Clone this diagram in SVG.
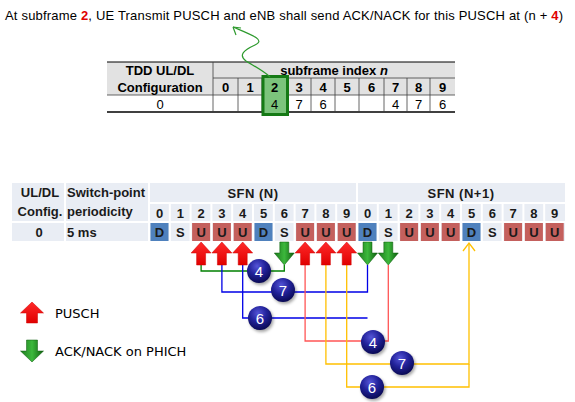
<svg xmlns="http://www.w3.org/2000/svg" width="575" height="402" viewBox="0 0 575 402">
<style>
.t{font-family:"Liberation Sans",Arial,sans-serif;fill:#000}
.b{font-weight:bold}
.tb{font-family:"Liberation Sans",Arial,sans-serif;font-weight:bold;font-size:13px;fill:#1a1a1a}
.grid{stroke:#404040;stroke-width:0.8;fill:none}
.sep{stroke:#ffffff;stroke-width:2}
.D{fill:#4f81bd}
.U{fill:#c0504d;fill-opacity:0.9}
.num{font-family:"Liberation Sans",Arial,sans-serif;font-size:15px;fill:#ffffff;text-anchor:middle}
.lg{font-family:"DejaVu Sans",Verdana,sans-serif;font-size:13px;fill:#000}
.c{fill:none;stroke-width:1.3}
</style>
<defs>
<linearGradient id="gr" x1="0" y1="0" x2="0" y2="1">
<stop offset="0" stop-color="#ff2a2a"/><stop offset="1" stop-color="#e00000"/>
</linearGradient>
<linearGradient id="gg" x1="0" y1="0" x2="1" y2="0">
<stop offset="0" stop-color="#1e7a1e"/><stop offset="0.5" stop-color="#3cb83c"/><stop offset="1" stop-color="#0e5e0e"/>
</linearGradient>
<radialGradient id="ball" cx="0.42" cy="0.3" r="0.7">
<stop offset="0" stop-color="#5555d8"/><stop offset="0.5" stop-color="#22229a"/><stop offset="1" stop-color="#0a0a55"/>
</radialGradient>
<filter id="sh" x="-50%" y="-50%" width="200%" height="200%">
<feGaussianBlur stdDeviation="1.5"/>
</filter>
<path id="up" d="M0,0 L10,11 L4.5,11 L4.5,23 L-4.5,23 L-4.5,11 L-10,11 Z" fill="url(#gr)" stroke="#d00000" stroke-width="0.5"/>
<path id="dn" d="M-4.5,0 L4.5,0 L4.5,11 L10,11 L0,23 L-10,11 L-4.5,11 Z" fill="url(#gg)" stroke="#0a5a0a" stroke-width="0.5"/>
<g id="ballg">
<circle cx="1.5" cy="2" r="12" fill="#000" fill-opacity="0.35" filter="url(#sh)"/>
<circle cx="0" cy="0" r="12" fill="url(#ball)"/>
</g>
</defs>

<!-- title -->
<g id="title">
<text class="t" x="5" y="20" font-size="13" textLength="558" lengthAdjust="spacing">At subframe <tspan class="b" fill="#e00000">2</tspan>, UE Transmit PUSCH and eNB shall send ACK/NACK for this PUSCH at (n + <tspan class="b" fill="#e00000">4</tspan>)</text>
</g>

<!-- top table -->
<g id="table1">
<rect x="107" y="62" width="348" height="33" fill="#e2e2e2"/>
<rect x="107" y="95" width="348" height="17" fill="#ffffff"/>
<line x1="107" y1="62" x2="455" y2="62" stroke="#000" stroke-width="1"/>
<line x1="107" y1="112" x2="455" y2="112" stroke="#000" stroke-width="1.6"/>
<line class="grid" x1="213" y1="78" x2="455" y2="78"/>
<line class="grid" x1="107" y1="95" x2="455" y2="95"/>
<line class="grid" x1="213" y1="62" x2="213" y2="112"/>
<g class="grid">
<line x1="238" y1="78" x2="238" y2="112"/><line x1="262" y1="78" x2="262" y2="112"/>
<line x1="287" y1="78" x2="287" y2="112"/><line x1="311" y1="78" x2="311" y2="112"/>
<line x1="335" y1="78" x2="335" y2="112"/><line x1="359" y1="78" x2="359" y2="112"/>
<line x1="384" y1="78" x2="384" y2="112"/><line x1="407" y1="78" x2="407" y2="112"/>
<line x1="430" y1="78" x2="430" y2="112"/>
</g>
<rect x="263" y="76.5" width="24.5" height="38" fill="#7cc47c" stroke="#157a15" stroke-width="3"/>
<text class="t b" x="160" y="75" font-size="13" text-anchor="middle">TDD UL/DL</text>
<text class="t b" x="160" y="92" font-size="13" text-anchor="middle">Configuration</text>
<text class="t b" x="334" y="75" font-size="13" text-anchor="middle">subframe index <tspan font-style="italic">n</tspan></text>
<g class="t b" font-size="13" text-anchor="middle">
<text x="225.5" y="92">0</text><text x="250" y="92">1</text><text x="274.5" y="92">2</text>
<text x="299" y="92">3</text><text x="323" y="92">4</text><text x="347" y="92">5</text>
<text x="371.5" y="92">6</text><text x="395.5" y="92">7</text><text x="418.5" y="92">8</text>
<text x="442.5" y="92">9</text>
</g>
<g class="t" font-size="13" text-anchor="middle" fill="#222">
<text x="160" y="109">0</text>
<text x="274.5" y="109">4</text><text x="299" y="109">7</text><text x="323" y="109">6</text>
<text x="395.5" y="109">4</text><text x="418.5" y="109">7</text><text x="442.5" y="109">6</text>
</g>
</g>

<!-- green curved pointer -->
<g id="pointer" fill="none" stroke="#2e9a2e" stroke-width="1.2">
<path d="M233,27 C252,35 266,40 255,45 C244,50 238,55 246,61 C254,66 264,71 270,77"/>
<path d="M233,27 L236,35 M233,27 L241,28"/>
</g>

<!-- bottom table -->
<g id="table2">
<rect x="12" y="183" width="553" height="58" fill="#e9edf4"/>
<line class="sep" x1="65" y1="183" x2="65" y2="241"/>
<line class="sep" x1="149" y1="183" x2="149" y2="241"/>
<line class="sep" x1="357" y1="183" x2="357" y2="241"/>
<line class="sep" x1="149" y1="203" x2="565" y2="203"/>
<line class="sep" x1="12" y1="222" x2="565" y2="222"/>
<g class="sep">
<line x1="169.8" y1="203" x2="169.8" y2="241"/><line x1="190.6" y1="203" x2="190.6" y2="241"/>
<line x1="211.4" y1="203" x2="211.4" y2="241"/><line x1="232.2" y1="203" x2="232.2" y2="241"/>
<line x1="253" y1="203" x2="253" y2="241"/><line x1="273.8" y1="203" x2="273.8" y2="241"/>
<line x1="294.6" y1="203" x2="294.6" y2="241"/><line x1="315.4" y1="203" x2="315.4" y2="241"/>
<line x1="336.2" y1="203" x2="336.2" y2="241"/>
<line x1="377.8" y1="203" x2="377.8" y2="241"/><line x1="398.6" y1="203" x2="398.6" y2="241"/>
<line x1="419.4" y1="203" x2="419.4" y2="241"/><line x1="440.2" y1="203" x2="440.2" y2="241"/>
<line x1="461" y1="203" x2="461" y2="241"/><line x1="481.8" y1="203" x2="481.8" y2="241"/>
<line x1="502.6" y1="203" x2="502.6" y2="241"/><line x1="523.4" y1="203" x2="523.4" y2="241"/>
<line x1="544.2" y1="203" x2="544.2" y2="241"/>
</g>
<rect class="D" x="150.5" y="223" width="18" height="18"/>
<rect class="U" x="192.1" y="223" width="18" height="18"/>
<rect class="U" x="212.9" y="223" width="18" height="18"/>
<rect class="U" x="233.7" y="223" width="18" height="18"/>
<rect class="D" x="254.5" y="223" width="18" height="18"/>
<rect class="U" x="296.1" y="223" width="18" height="18"/>
<rect class="U" x="316.9" y="223" width="18" height="18"/>
<rect class="U" x="337.7" y="223" width="18" height="18"/>
<rect class="D" x="358.5" y="223" width="18" height="18"/>
<rect class="U" x="400.1" y="223" width="18" height="18"/>
<rect class="U" x="420.9" y="223" width="18" height="18"/>
<rect class="U" x="441.7" y="223" width="18" height="18"/>
<rect class="D" x="462.5" y="223" width="18" height="18"/>
<rect class="U" x="504.1" y="223" width="18" height="18"/>
<rect class="U" x="524.9" y="223" width="18" height="18"/>
<rect class="U" x="545.7" y="223" width="18" height="18"/>
<text class="tb" x="40" y="197" text-anchor="middle">UL/DL</text>
<text class="tb" x="40" y="216" text-anchor="middle">Config.</text>
<text class="tb" x="39" y="237" text-anchor="middle">0</text>
<text class="tb" x="67" y="197">Switch-point</text>
<text class="tb" x="67" y="216">periodicity</text>
<text class="tb" x="67" y="237">5 ms</text>
<text class="tb" x="253" y="198" text-anchor="middle" letter-spacing="0.5">SFN (N)</text>
<text class="tb" x="461" y="198" text-anchor="middle" letter-spacing="0.5">SFN (N+1)</text>
<g class="tb" text-anchor="middle">
<text x="159.5" y="218">0</text><text x="180.3" y="218">1</text><text x="201.1" y="218">2</text>
<text x="221.9" y="218">3</text><text x="242.7" y="218">4</text><text x="263.5" y="218">5</text>
<text x="284.3" y="218">6</text><text x="305.1" y="218">7</text><text x="325.9" y="218">8</text>
<text x="346.7" y="218">9</text><text x="367.5" y="218">0</text><text x="388.3" y="218">1</text>
<text x="409.1" y="218">2</text><text x="429.9" y="218">3</text><text x="450.7" y="218">4</text>
<text x="471.5" y="218">5</text><text x="492.3" y="218">6</text><text x="513.1" y="218">7</text>
<text x="533.9" y="218">8</text><text x="554.7" y="218">9</text>
</g>
<g class="tb" text-anchor="middle">
<text x="159.5" y="237">D</text><text x="180.3" y="237">S</text><text x="201.1" y="237">U</text>
<text x="221.9" y="237">U</text><text x="242.7" y="237">U</text><text x="263.5" y="237">D</text>
<text x="284.3" y="237">S</text><text x="305.1" y="237">U</text><text x="325.9" y="237">U</text>
<text x="346.7" y="237">U</text><text x="367.5" y="237">D</text><text x="388.3" y="237">S</text>
<text x="409.1" y="237">U</text><text x="429.9" y="237">U</text><text x="450.7" y="237">U</text>
<text x="471.5" y="237">D</text><text x="492.3" y="237">S</text><text x="513.1" y="237">U</text>
<text x="533.9" y="237">U</text><text x="554.7" y="237">U</text>
</g>
</g>

<!-- connectors -->
<g id="connectors">
<polyline class="c" stroke="#008000" points="201.1,265 201.1,271 284.3,271 284.3,265"/>
<polyline class="c" stroke="#0000e6" points="221.9,265 221.9,292 367.5,292 367.5,265"/>
<polyline class="c" stroke="#0000e6" points="242.7,265 242.7,318 367.5,318"/>
<polyline class="c" stroke="#ff5555" points="305.1,265 305.1,341 388.3,341 388.3,265"/>
<polyline class="c" stroke="#ffc000" points="325.9,265 325.9,364 469,364 469,243"/>
<polyline class="c" stroke="#ffc000" points="346.7,265 346.7,387 469,387 469,364"/>
<polyline class="c" stroke="#ffc000" points="463,251 469,243 475,251"/>
</g>

<!-- arrows -->
<g id="pusch-arrows">
<use href="#up" x="201.1" y="242"/>
<use href="#up" x="221.9" y="242"/>
<use href="#up" x="242.7" y="242"/>
<use href="#up" x="305.1" y="242"/>
<use href="#up" x="325.9" y="242"/>
<use href="#up" x="346.7" y="242"/>
</g>
<g id="ack-arrows">
<use href="#dn" x="284.3" y="242"/>
<use href="#dn" x="367.5" y="242"/>
<use href="#dn" x="388.3" y="242"/>
</g>

<!-- number balls -->
<g id="ball-4a"><use href="#ballg" x="259" y="271"/><text class="num" x="259" y="276.5">4</text></g>
<g id="ball-7a"><use href="#ballg" x="283" y="290"/><text class="num" x="283" y="295.5">7</text></g>
<g id="ball-6a"><use href="#ballg" x="260" y="318"/><text class="num" x="260" y="323.5">6</text></g>
<g id="ball-4b"><use href="#ballg" x="373" y="342"/><text class="num" x="373" y="347.5">4</text></g>
<g id="ball-7b"><use href="#ballg" x="402" y="363"/><text class="num" x="402" y="368.5">7</text></g>
<g id="ball-6b"><use href="#ballg" x="372" y="387"/><text class="num" x="372" y="392.5">6</text></g>

<!-- legend -->
<g id="legend-pusch">
<path d="M32,302 L43.5,313 L37.5,313 L37.5,323 L26.5,323 L26.5,313 L20.5,313 Z" fill="url(#gr)" stroke="#d00000" stroke-width="0.5"/>
<text class="lg" x="55" y="318">PUSCH</text>
</g>
<g id="legend-ack">
<path d="M26.5,340 L37.5,340 L37.5,351 L43.5,351 L32,362 L20.5,351 L26.5,351 Z" fill="url(#gg)" stroke="#0a5a0a" stroke-width="0.5"/>
<text class="lg" x="55" y="356">ACK/NACK on PHICH</text>
</g>
</svg>
